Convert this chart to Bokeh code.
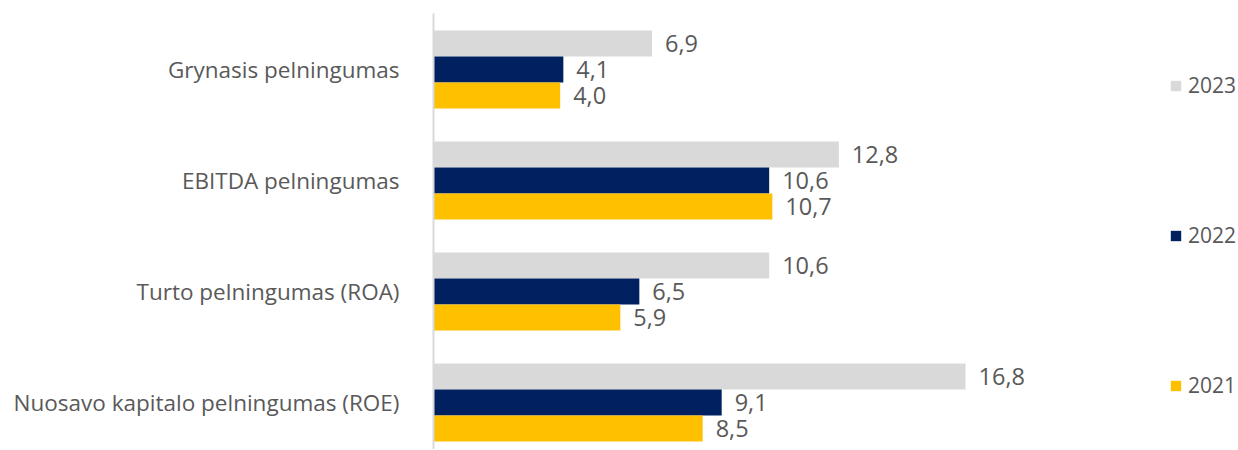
from bokeh.plotting import figure
from bokeh.models import ColumnDataSource, Range1d, FixedTicker, Legend, LegendItem
from bokeh.embed import file_html
from bokeh.resources import INLINE
from bokeh.core.properties import value

categories = ["Grynasis pelningumas", "EBITDA pelningumas",
              "Turto pelningumas (ROA)", "Nuosavo kapitalo pelningumas (ROE)"]
years = ["2023", "2022", "2021"]
v2023 = [6.9, 12.8, 10.6, 16.8]
v2022 = [4.1, 10.6, 6.5, 9.1]
v2021 = [4.0, 10.7, 5.9, 8.5]
colors = ["#D9D9D9", "#002060", "#FFC000"]

FONT = "Open Sans"
TXT = "#595959"

n = len(categories)
pos = [n - 1 - i for i in range(n)]  # top to bottom
bar_h = 0.234
offsets = [bar_h, 0.0, -bar_h]

p = figure(width=1238, height=449, output_backend="svg", toolbar_location=None,
           x_range=Range1d(0, 25.42), y_range=Range1d(-0.4234, 3.5045),
           min_border_left=433, min_border_right=0, min_border_top=13, min_border_bottom=0)
p.outline_line_color = None
p.grid.visible = False
p.xaxis.visible = False

yax = p.yaxis[0]
yax.ticker = FixedTicker(ticks=pos)
yax.major_label_overrides = {pos[i]: categories[i] for i in range(n)}
yax.major_tick_line_color = None
yax.minor_tick_line_color = None
yax.axis_line_color = "#D9D9D9"
yax.axis_line_width = 2
yax.major_label_standoff = 28
yax.major_label_text_font = FONT
yax.major_label_text_font_size = "22.5px"
yax.major_label_text_color = TXT

items = []
for vals, yr, col, off in zip([v2023, v2022, v2021], years, colors, offsets):
    src = ColumnDataSource(dict(y=[q + off for q in pos], v=vals,
                                lbl=[f"{x:.1f}".replace(".", ",") for x in vals]))
    r = p.hbar(y="y", right="v", left=0, height=bar_h, color=col, line_color=None, source=src)
    p.text(x="v", y="y", text="lbl", source=src, x_offset=13, text_baseline="middle",
           text_align="left", text_font=value(FONT), text_font_size="23.5px", text_color=TXT)
    items.append(LegendItem(label=yr, renderers=[r]))

legend = Legend(items=items, location=(736, 49), orientation="vertical",
                glyph_width=13, glyph_height=13, label_height=30, spacing=120,
                padding=0, margin=0, border_line_color=None, background_fill_alpha=0,
                label_text_font=FONT, label_text_font_size="21px", label_text_color=TXT,
                label_standoff=6)
p.add_layout(legend)

open("out.html", "w").write(file_html(p, INLINE))
